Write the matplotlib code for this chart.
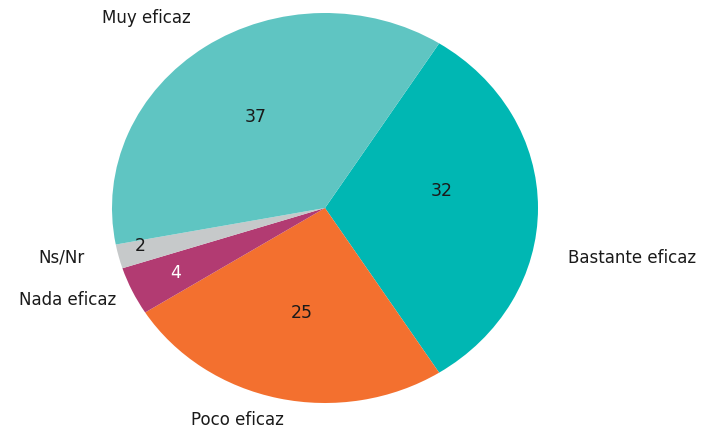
import matplotlib
matplotlib.use("Agg")
import matplotlib.pyplot as plt

categories = ["Bastante eficaz", "Poco eficaz", "Nada eficaz", "Ns/Nr", "Muy eficaz"]
values = [32, 25, 4, 2, 37]
colors = ["#00b7b3", "#f3702f", "#b23b72", "#c6c9ca", "#5fc5c2"]

# label placements (data units of the unit pie) and value text colours
value_pos = [(0.549, 0.087), (-0.108, -0.538), (-0.700, -0.333), (-0.869, -0.195), (-0.324, 0.467)]
value_colors = ["#1a1a1a", "#1a1a1a", "white", "#1a1a1a", "#1a1a1a"]
name_pos = [(1.441, -0.256), (-0.413, -1.087), (-1.207, -0.472), (-1.235, -0.256), (-0.840, 0.974)]

plt.rcParams["font.family"] = ["DejaVu Sans"]

fig = plt.figure(figsize=(7.04, 4.30), dpi=100)
ax = fig.add_axes([112 / 704, 27 / 430, 426 / 704, 390 / 430])

ax.pie(values, colors=colors, startangle=57.6, counterclock=False,
       radius=1.0, wedgeprops=dict(linewidth=0))
ax.set_aspect("auto")
ax.set_xlim(-1, 1)
ax.set_ylim(-1, 1)
ax.axis("off")

for v, (x, y), c in zip(values, value_pos, value_colors):
    ax.text(x, y, str(v), ha="center", va="center", fontsize=12.5, color=c, clip_on=False)

for name, (x, y) in zip(categories, name_pos):
    ax.text(x, y, name, ha="center", va="center", fontsize=12, color="#1a1a1a",
            clip_on=False)

fig.savefig("out.png", dpi=100, facecolor="white")
